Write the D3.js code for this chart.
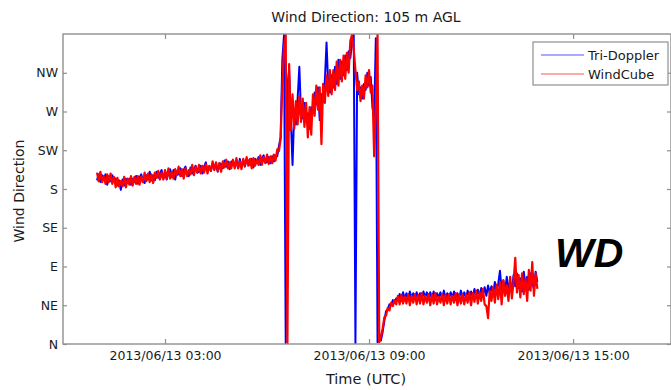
<!DOCTYPE html>
<html><head><meta charset="utf-8">
<script src="https://cdn.jsdelivr.net/npm/d3@7"></script>
<style>
body{margin:0;background:#fff}
svg{display:block}
text{font-family:"DejaVu Sans",Arial,sans-serif;fill:#1a1a1a}
</style>
</head><body>
<svg id="chart" width="671" height="390"></svg>
<script>
// ---------------- data ----------------
const titleText = "Wind Direction: 105 m AGL";
const xLabelText = "Time (UTC)";
const yLabelText = "Wind Direction";
const annotationText = "WD";
const seriesNames = ["Tri-Doppler", "WindCube"];
const seriesColors = ["#0000ff", "#ff0000"];
const dirValues = [0, 45, 90, 135, 180, 225, 270, 315];
const dirLabels = ["N", "NE", "E", "SE", "S", "SW", "W", "NW"];
const xTickHours = [3, 9, 15];            // hours after 2013-06-13 00:00 UTC
const xDomainHours = [0, 17.88];

// segment 1: 01:00 - 06:24, every 0.05 h
const seg1Start = 1.0, seg1Step = 0.05;
const seg1TD = [190,197,188,196,191,197,185,195,189,196,189,192,184,190,179,191,184,192,187,192,
                185,192,188,195,186,193,197,189,187,196,191,200,190,196,190,200,193,198,202,192,
                199,191,199,203,194,202,191,201,197,204,195,202,206,198,195,205,198,203,207,199,
                200,207,198,206,211,201,206,201,210,203,209,200,210,209,204,213,206,212,203,212,
                211,206,213,204,215,206,212,206,215,213,208,215,205,215,210,217,208,216,219,211,
                211,217,210,218,212,219,218,230,240];
const seg1WC = [199,189,200,188,195,186,197,188,198,186,194,182,193,183,189,183,194,182,192,185,
                195,184,194,186,195,185,194,188,199,189,198,188,197,187,199,193,201,191,199,191,
                202,192,204,192,200,192,203,196,206,195,203,192,204,195,202,197,208,196,206,199,
                208,198,207,199,209,198,207,201,212,202,211,201,210,200,212,205,214,204,211,204,
                214,204,216,204,212,203,215,207,217,207,215,204,216,207,214,208,219,208,217,210,
                220,209,218,210,220,213,226,224,238];
// segment 2: 06:27 - 09:18, every 0.05 h (unstable period, with 360/0 wraps)
const seg2Start = 6.45, seg2Step = 0.05;
const seg2TD = [330,359,1,300,318,262,208,270,255,285,322,
                268,262,280,258,268,250,275,268,292,278,298,260,290,282,305,350,300,292,312,298,
                322,302,330,308,328,312,335,318,340,332,352,359,1,315,290,298,285,302,295,315,
                300,310,275,262,355,2,5];
const seg2WC = [300,345,359,1,325,248,290,250,282,255,288,
                258,285,252,280,240,275,243,290,265,300,272,298,232,302,280,312,288,318,290,318,
                295,328,300,330,305,335,308,338,315,352,359,342,318,295,305,282,300,285,312,298,
                318,292,300,218,275,359,2];
// segment 3: 09:21 - 13:57, every 0.05 h
const seg3Start = 9.35, seg3Step = 0.05;
const seg3TD = [4,14,27,38,40,46,45,51,49,53, 52,58,50,60,52,59,51,61,53,59,
                52,60,53,59,51,61,54,60,52,60, 53,61,51,59,54,60,52,62,53,59,
                52,60,54,61,51,59,53,62,54,60, 53,62,55,61,54,64,56,63,55,65,
                57,66,56,68,59,67,57,72,61,70, 85,63,74,61,78,65,72,62,80,67,
                82,65,76,61,84,67,78,63,82,69, 65,84,72];
const seg3WC = [8,18,31,33,42,39,48,44,51,46, 56,46,57,47,55,47,58,45,56,48,
                58,46,57,47,59,46,56,48,58,45, 57,47,59,46,55,48,58,45,57,47,
                58,46,56,48,59,45,57,47,58,46, 57,48,60,45,59,49,62,47,60,50,
                64,46,44,30,62,50,66,48,69,52, 72,46,74,56,68,50,78,53,72,100,
                60,80,54,82,58,76,50,86,62,95, 56,82,64];

// ---------------- build ----------------
const T0 = Date.UTC(2013, 5, 13, 0, 0, 0);
const HOUR = 3600e3;
function build(segs) {
  const out = [];
  segs.forEach(([s, st, vals]) => vals.forEach((v, i) => out.push({t: new Date(T0 + (s + i * st) * HOUR), v})));
  return out;
}
const tdData = build([[seg1Start, seg1Step, seg1TD], [seg2Start, seg2Step, seg2TD], [seg3Start, seg3Step, seg3TD]]);
const wcData = build([[seg1Start, seg1Step, seg1WC], [seg2Start, seg2Step, seg2WC], [seg3Start, seg3Step, seg3WC]]);

const svg = d3.select("#chart");
const L = 63, R = 671, T = 34, B = 344;
const x = d3.scaleUtc().domain(xDomainHours.map(h => new Date(T0 + h * HOUR))).range([L, R]);
const y = d3.scaleLinear().domain([0, 360]).range([B, T]);

svg.append("defs").append("clipPath").attr("id", "clip")
  .append("rect").attr("x", L).attr("y", T).attr("width", R - L).attr("height", B - T);

const line = d3.line().x(d => x(d.t)).y(d => y(d.v));
const g = svg.append("g").attr("clip-path", "url(#clip)");
const widths = [2.0, 2.2];
[tdData, wcData].forEach((data, i) => {
  g.append("path").datum(data)
    .attr("fill", "none").attr("stroke", seriesColors[i])
    .attr("stroke-width", widths[i]).attr("stroke-linejoin", "round")
    .attr("d", line);
});

// frame
svg.append("rect").attr("x", L).attr("y", T).attr("width", R - L).attr("height", B - T)
  .attr("fill", "none").attr("stroke", "#8f8f8f").attr("stroke-width", 1.4);

const xTicks = xTickHours.map(h => new Date(T0 + h * HOUR));
const fmt = d3.utcFormat("%Y/%m/%d %H:%M");
function styleAxis(sel) {
  sel.select(".domain").remove();
  sel.selectAll(".tick line").attr("stroke", "#8f8f8f").attr("stroke-width", 1.2);
  sel.selectAll(".tick text").attr("fill", "#1a1a1a").style("font-family", '"DejaVu Sans",Arial,sans-serif');
}
svg.append("g").attr("transform", `translate(0,${B})`)
  .call(d3.axisBottom(x).tickValues(xTicks).tickFormat(fmt).tickSizeInner(-5).tickSizeOuter(0).tickPadding(7))
  .call(styleAxis).selectAll("text").style("font-size", "12.5px");
svg.append("g").attr("transform", `translate(0,${T})`)
  .call(d3.axisTop(x).tickValues(xTicks).tickFormat("").tickSizeInner(-5).tickSizeOuter(0))
  .call(styleAxis);
svg.append("g").attr("transform", `translate(${L},0)`)
  .call(d3.axisLeft(y).tickValues(dirValues).tickFormat((d, i) => dirLabels[i]).tickSizeInner(-4).tickSizeOuter(0).tickPadding(5))
  .call(styleAxis).selectAll("text").style("font-size", "12.5px");
svg.append("g").attr("transform", `translate(${R},0)`)
  .call(d3.axisRight(y).tickValues(dirValues).tickFormat("").tickSizeInner(-4).tickSizeOuter(0))
  .call(styleAxis);

// titles
svg.append("text").attr("x", 366).attr("y", 22).attr("text-anchor", "middle")
  .style("font-size", "14px").text(titleText);
svg.append("text").attr("x", 366).attr("y", 384).attr("text-anchor", "middle")
  .style("font-size", "14.5px").text(xLabelText);
svg.append("text").attr("transform", "translate(24,191) rotate(-90)").attr("text-anchor", "middle")
  .style("font-size", "14px").text(yLabelText);

// legend
const lg = svg.append("g");
lg.append("rect").attr("x", 533).attr("y", 42).attr("width", 135).attr("height", 43)
  .attr("fill", "#fff").attr("stroke", "#8f8f8f").attr("stroke-width", 1.2);
seriesNames.forEach((name, i) => {
  const yy = 55 + i * 19;
  lg.append("line").attr("x1", 541).attr("x2", 584).attr("y1", yy).attr("y2", yy)
    .attr("stroke", seriesColors[i]).attr("stroke-opacity", 0.45).attr("stroke-width", 1.3);
  lg.append("text").attr("x", 588).attr("y", yy + 4.5).style("font-size", "13px").text(name);
});

// annotation
svg.append("text").attr("x", 555).attr("y", 267)
  .style("font-family", '"Liberation Sans",Arial,sans-serif')
  .style("font-weight", "bold").style("font-style", "italic").style("font-size", "41px")
  .style("fill", "#000").text(annotationText);
</script>
</body></html>
